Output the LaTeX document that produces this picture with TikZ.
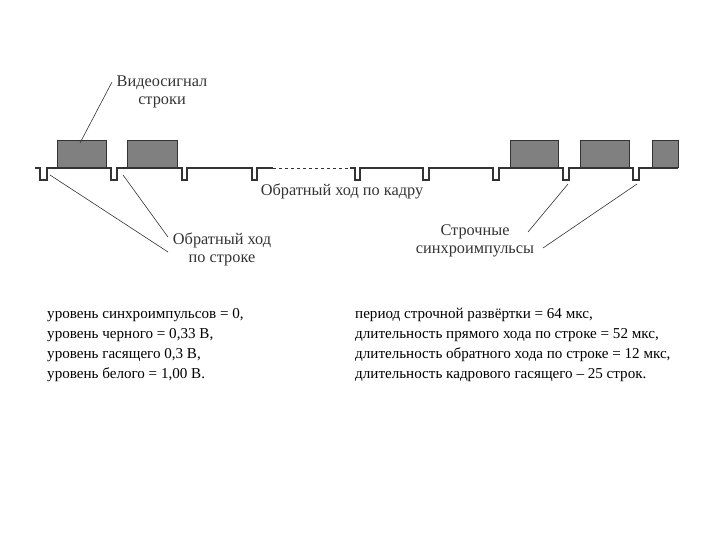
\documentclass[tikz,border=0pt]{standalone}
\usepackage{fontspec}
\setmainfont{Liberation Serif}
\begin{document}
\begin{tikzpicture}[x=1pt,y=-1pt,
  sig/.style={line width=1.2pt,draw=black!80},
  box/.style={fill=black!50,draw=black!80,line width=0.8pt},
  lead/.style={draw=black!80,line width=0.6pt},
  lab/.style={font=\fontsize{16.3}{18}\selectfont,align=center,text=black!80,inner sep=0pt},
  txt/.style={font=\fontsize{15.1}{20}\selectfont,align=left,anchor=north west,inner sep=0pt}]
\useasboundingbox (0,0) rectangle (720,540);
% boxes
\foreach \a/\b in {57/106,127/177,510/558,580/629,652/678}
  \draw[box] (\a,140) rectangle (\b,167);
% signal
\draw[sig] (35,168) -- (40,168) -- (40,180) -- (47,180) -- (47,168) -- (111,168) -- (111,180) -- (117,180) -- (117,168)
  -- (182,168) -- (182,180) -- (187,180) -- (187,168) -- (252,168) -- (252,180) -- (257,180) -- (257,168) -- (273,168);
\draw[sig,dashed,line width=0.8pt] (273,168) -- (350,168);
\draw[sig] (350,168) -- (355,168) -- (355,180) -- (360,180) -- (360,168) -- (423,168) -- (423,180) -- (429,180) -- (429,168)
  -- (493,168) -- (493,180) -- (499,180) -- (499,168) -- (563,168) -- (563,180) -- (569,180) -- (569,168)
  -- (633,168) -- (633,180) -- (639,180) -- (639,168) -- (678,168);
\coordinate (p1) at (50,175); \coordinate (p2) at (123,175);
\coordinate (p8) at (568,184); \coordinate (p9) at (637,184);
\coordinate (b1) at (80,143);
\node[lab] (video) at (162,92) {Видеосигнал\\строки};
\node[lab] (kadr) at (342,191) {Обратный ход по кадру};
\node[lab] (stroke) at (222,249) {Обратный ход\\по строке};
\node[lab] (sync) at (475,241) {Строчные\\синхроимпульсы};
\draw[lead] (112,82) -- (b1);
\draw[lead] (p1) -- (168,252);
\draw[lead] (p2) -- (168,237);
\draw[lead] (p8) -- (528,232);
\draw[lead] (p9) -- (543,248);
\node[txt] (left) at (47,308) {уровень синхроимпульсов = 0,\\уровень черного = 0,33 В,\\уровень гасящего 0,3 В,\\уровень белого = 1,00 В.};
\node[txt] (right) at (355,308) {период строчной развёртки = 64 мкс,\\длительность прямого хода по строке = 52 мкс,\\длительность обратного хода по строке = 12 мкс,\\длительность кадрового гасящего – 25 строк.};
\end{tikzpicture}
\end{document}
